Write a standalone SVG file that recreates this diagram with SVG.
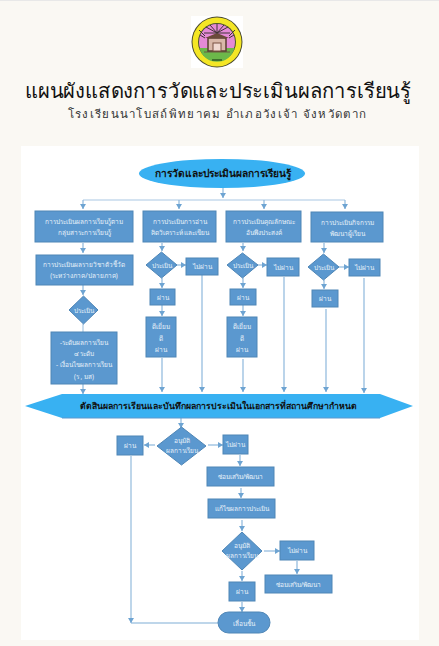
<svg xmlns="http://www.w3.org/2000/svg" width="439" height="646" viewBox="0 0 439 646">
<style>
.t{font-family:"Noto Sans","Liberation Sans","Noto Sans CJK SC",sans-serif;text-anchor:middle}
.w{fill:#e8f1f9;font-size:6.5px}
.k{fill:#111;font-weight:600}
.b{fill:#5b98cf;stroke:#4f86b6;stroke-width:1}
.c{fill:none;stroke:#8db7dc;stroke-width:1.2;marker-end:url(#a)}
.l{fill:none;stroke:#a9c8e3;stroke-width:1.2}
</style>
<defs>
<marker id="a" markerUnits="userSpaceOnUse" markerWidth="6" markerHeight="6" refX="5" refY="3" orient="auto"><path d="M0 0L5 3L0 6z" fill="#6ea4d2"/></marker>
</defs>
<rect width="439" height="646" fill="#faf8f3"/>
<rect width="439" height="1" fill="#e8e8e8"/>
<rect x="21" y="146" width="398" height="494" fill="#fff"/>
<g id="logo">
<rect x="191" y="16" width="52" height="52" fill="#fff"/>
<circle cx="217" cy="42" r="25.500" fill="#4a4a30"/>
<circle cx="217" cy="42" r="24.500" fill="#f4e625"/>
<circle cx="217" cy="42" r="19" fill="#4a5030"/>
<circle cx="217" cy="42" r="18" fill="#e58ad6"/>
<path d="M199.500 48H234.500A18 18 0 0 1 199.500 48z" fill="#6cb84a"/>
<path d="M204 52H230" stroke="#6b5a40" stroke-width="1"/>
<rect x="208" y="38" width="18" height="13" fill="#d9b8a8" stroke="#5a3d30" stroke-width="1.500"/>
<rect x="213" y="43" width="8" height="8" fill="#f1d9d0" stroke="#7a5040" stroke-width="1"/>
<path d="M205 38L217 33L229 38z" fill="#6b4a3a"/>
<path d="M217 33L206 27M217 33L228 27M217 33L210 25M217 33L224 25M217 33V24M217 33L204 33M217 33L230 33M205 36L199 30M229 36L235 30M205 38L200 35M229 38L234 35" stroke="#3f3535" stroke-width="1"/>
<path d="M212 60H222" stroke="#2f5a25" stroke-width="1.500"/>
</g>
<g id="title">
<text class="t" x="218" y="98" font-size="20.500" textLength="386" lengthAdjust="spacingAndGlyphs" fill="#111">แผนผังแสดงการวัดและประเมินผลการเรียนรู้</text>
<text class="t" x="217.500" y="118" font-size="11.500" letter-spacing="1.300" fill="#333">โรงเรียนนาโบสถ์พิทยาคม อำเภอวังเจ้า จังหวัดตาก</text>
</g>
<g id="connectors">
<path class="c" d="M223 188V198"/>
<path class="l" d="M83 200H345"/>
<path class="c" d="M83 200V209"/><path class="c" d="M179 200V209"/><path class="c" d="M264 200V209"/><path class="c" d="M345 200V209"/>
<path class="c" d="M83 243V253"/>
<path class="c" d="M83 285V295"/>
<path class="l" d="M83 324V332"/>
<path class="c" d="M83 384V394"/>
<path class="c" d="M162 243V251"/><path class="c" d="M177 265H186"/><path class="c" d="M162 278V288"/><path class="c" d="M162 305V316"/><path class="c" d="M162 358V392"/><path class="c" d="M202 275V392"/>
<path class="c" d="M243 243V251"/><path class="c" d="M258 265H267"/><path class="c" d="M243 278V288"/><path class="c" d="M243 305V316"/><path class="c" d="M243 359V392"/><path class="c" d="M284 277V392"/>
<path class="c" d="M324 243V253"/><path class="c" d="M339 267H349"/><path class="c" d="M324 280V289"/><path class="c" d="M326 309V392"/><path class="c" d="M364 278V393"/>
<path class="c" d="M181 418V428"/>
<path class="c" d="M155 445H144"/><path class="c" d="M208 445H223"/>
<path class="c" d="M240 455V466"/><path class="c" d="M241 488V498"/><path class="c" d="M242 520V531"/>
<path class="c" d="M264 551H280"/><path class="c" d="M297 561V574"/><path class="c" d="M242 571V581"/><path class="c" d="M242 602V612"/>
<path d="M131 456V618" fill="none" stroke="#a9c8e3" stroke-width="1.500"/>
<path d="M218 623H131" fill="none" stroke="#a9c8e3" stroke-width="1.500"/>
<path class="c" d="M131 618V623"/>
</g>
<g id="start"><ellipse cx="222" cy="173.500" rx="83" ry="14.500" fill="#38b1f2"/><text class="t k" x="222.500" y="177" font-size="10.200">การวัดและประเมินผลการเรียนรู้</text></g>
<g id="n1"><rect class="b" x="35" y="211" width="98" height="31"/><text class="t w" x="84" y="224">การประเมินผลการเรียนรู้ตาม</text><text class="t w" x="84" y="235">กลุ่มสาระการเรียนรู้</text></g>
<g id="n2"><rect class="b" x="143" y="211" width="73" height="31"/><text class="t w" x="180" y="224">การประเมินการอ่าน</text><text class="t w" x="180" y="235">คิดวิเคราะห์ และเขียน</text></g>
<g id="n3"><rect class="b" x="226" y="211" width="75" height="31"/><text class="t w" x="264" y="224">การประเมินคุณลักษณะ</text><text class="t w" x="264" y="235">อันพึงประสงค์</text></g>
<g id="n4"><rect class="b" x="311" y="212" width="72" height="30"/><text class="t w" x="347" y="225">การประเมินกิจกรรม</text><text class="t w" x="347" y="236">พัฒนาผู้เรียน</text></g>
<g id="n5"><rect class="b" x="36" y="255" width="97" height="30"/><text class="t w" x="84" y="267">การประเมินผลรายวิชาตัวชี้วัด</text><text class="t w" x="84" y="278">(ระหว่างภาค/ปลายภาค)</text></g>
<g id="d1"><path class="b" d="M83.500 296L98 310L83.500 324L69 310z"/><text class="t w" x="83.500" y="312.500">ประเมิน</text></g>
<g id="n6"><rect class="b" x="51" y="332" width="66" height="52"/><text class="t w" x="84" y="345">-ระดับผลการเรียน</text><text class="t w" x="84" y="356">๔ ระดับ</text><text class="t w" x="84" y="367">- เงื่อนไขผลการเรียน</text><text class="t w" x="84" y="379">(ร , มส)</text></g>
<g id="d2"><path class="b" d="M161.500 252L177 265L161.500 278L146 265z"/><text class="t w" x="161.500" y="267.500">ประเมิน</text></g>
<g id="n7"><rect class="b" x="186" y="258" width="32" height="17"/><text class="t w" x="202" y="269">ไม่ผ่าน</text></g>
<g id="n8"><rect class="b" x="150" y="289" width="25" height="16"/><text class="t w" x="162.500" y="300">ผ่าน</text></g>
<g id="n9"><rect class="b" x="146" y="317" width="30" height="40"/><text class="t w" x="161" y="329">ดีเยี่ยม</text><text class="t w" x="161" y="341">ดี</text><text class="t w" x="161" y="352">ผ่าน</text></g>
<g id="d3"><path class="b" d="M242.500 253L258 265L242.500 278L227 265z"/><text class="t w" x="242.500" y="267.500">ประเมิน</text></g>
<g id="n10"><rect class="b" x="267" y="258" width="32" height="18"/><text class="t w" x="283" y="269.500">ไม่ผ่าน</text></g>
<g id="n11"><rect class="b" x="230" y="289" width="26" height="16"/><text class="t w" x="243" y="300">ผ่าน</text></g>
<g id="n12"><rect class="b" x="227" y="317" width="30" height="40"/><text class="t w" x="242" y="329">ดีเยี่ยม</text><text class="t w" x="242" y="341">ดี</text><text class="t w" x="242" y="352">ผ่าน</text></g>
<g id="d4"><path class="b" d="M323.500 254L339 267L323.500 280L308 267z"/><text class="t w" x="323.500" y="269.500">ประเมิน</text></g>
<g id="n13"><rect class="b" x="349" y="259" width="31" height="17"/><text class="t w" x="364.500" y="270">ไม่ผ่าน</text></g>
<g id="n14"><rect class="b" x="312" y="290" width="26" height="17"/><text class="t w" x="325" y="301">ผ่าน</text></g>
<g id="band"><path d="M25 406L62 394H380L413 406L380 418H62z" fill="#38b1f2"/><path d="M62 418H380" stroke="#5b98cf" stroke-width="1"/><text class="t k" x="218.500" y="409" font-size="8.700">ตัดสินผลการเรียนและบันทึกผลการประเมินในเอกสารที่สถานศึกษากำหนด</text></g>
<g id="d5"><path class="b" d="M181.500 427L206 446L181.500 465L157 446z"/><text class="t w" x="181.500" y="443">อนุมัติ</text><text class="t w" x="181.500" y="453">ผลการเรียน</text></g>
<g id="n15"><rect class="b" x="117" y="436" width="26" height="19"/><text class="t w" x="130" y="448">ผ่าน</text></g>
<g id="n16"><rect class="b" x="223" y="435" width="25" height="19"/><text class="t w" x="235.500" y="447">ไม่ผ่าน</text></g>
<g id="n17"><rect class="b" x="207" y="467" width="67" height="19"/><text class="t w" x="240.500" y="479">ซ่อมเสริม/พัฒนา</text></g>
<g id="n18"><rect class="b" x="208" y="499" width="67" height="19"/><text class="t w" x="241.500" y="511">แก้ไขผลการประเมิน</text></g>
<g id="d6"><path class="b" d="M242 532L262 551L242 570L222 551z"/><text class="t w" x="242" y="548">อนุมัติ</text><text class="t w" x="242" y="558">ผลการเรียน</text></g>
<g id="n19"><rect class="b" x="280" y="541" width="34" height="19"/><text class="t w" x="297" y="553">ไม่ผ่าน</text></g>
<g id="n20"><rect class="b" x="265" y="575" width="67" height="18"/><text class="t w" x="298.500" y="587">ซ่อมเสริม/พัฒนา</text></g>
<g id="n21"><rect class="b" x="229" y="582" width="26" height="19"/><text class="t w" x="242" y="594">ผ่าน</text></g>
<g id="end"><rect class="b" x="218" y="612" width="52" height="21" rx="10.500"/><text class="t w" x="244" y="625.500" font-size="7.500">เลื่อนชั้น</text></g>
</svg>
